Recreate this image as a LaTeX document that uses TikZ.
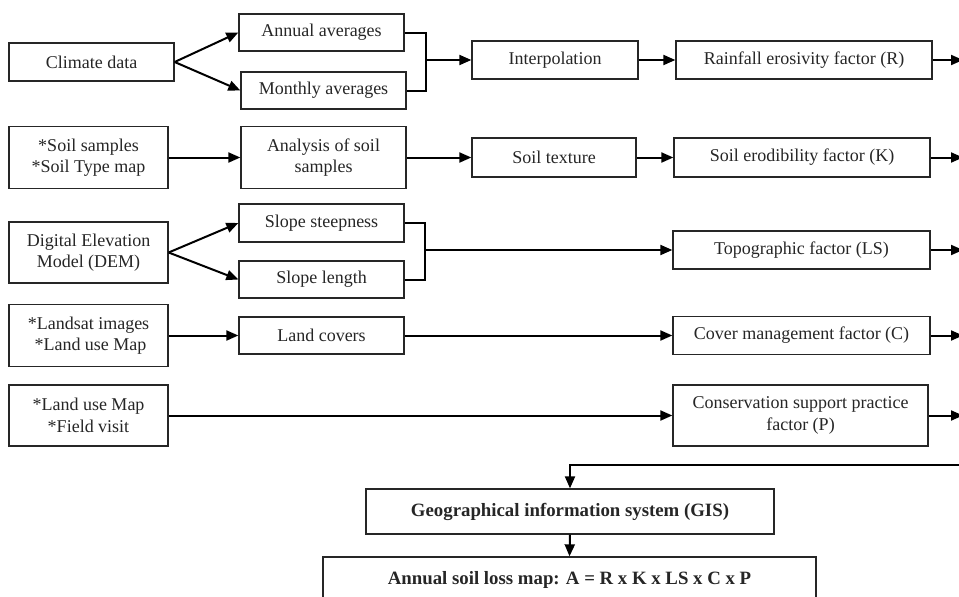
\documentclass[tikz,border=0pt]{standalone}
\usepackage{fontspec}
\setmainfont{Liberation Serif}
\usetikzlibrary{arrows.meta}
\tikzset{
  box/.style={draw=black!85, line width=1.3pt, inner sep=0pt, align=center,
    font=\fontsize{18}{21.5}\selectfont, text=black!85},
  boldbox/.style={box, font=\fontsize{18.8}{22}\selectfont\bfseries},
  conn/.style={line width=2pt, draw=black},
  arr/.style={conn, -{Triangle[length=12pt,width=10pt]}}
}
\begin{document}
\begin{tikzpicture}[x=1pt,y=-1pt]
\useasboundingbox (0,0) rectangle (959,597);
\clip (0,0) rectangle (959,597);
\fill[white] (0,0) rectangle (959,597);
% row 1
\node[box, minimum width=165pt, minimum height=38pt] (climate) at (91.5,62) {Climate data};
\node[box, minimum width=165pt, minimum height=37pt] (annual) at (321.5,32.5) {Annual averages};
\node[box, minimum width=165pt, minimum height=37pt] (monthly) at (323.5,90.5) {Monthly averages};
\node[box, minimum width=166pt, minimum height=38pt] (interp) at (555,60) {Interpolation};
\node[box, minimum width=256pt, minimum height=38pt] (rain) at (804,60) {Rainfall erosivity factor (R)};
% row 2
\node[box, minimum width=159pt, minimum height=62pt] (soil) at (88.5,157.5) {*Soil samples\\*Soil Type map};
\node[box, minimum width=165pt, minimum height=62pt] (analysis) at (323.5,157.5) {Analysis of soil\\samples};
\node[box, minimum width=164pt, minimum height=39pt] (texture) at (554,157.5) {Soil texture};
\node[box, minimum width=256pt, minimum height=39pt] (erod) at (802,157.5) {Soil erodibility factor (K)};
% row 3
\node[box, minimum width=159pt, minimum height=61pt] (dem) at (88.5,252.5) {Digital Elevation\\Model (DEM)};
\node[box, minimum width=165pt, minimum height=38pt] (steep) at (321.5,223) {Slope steepness};
\node[box, minimum width=165pt, minimum height=37pt] (length) at (321.5,279.5) {Slope length};
\node[box, minimum width=257pt, minimum height=38pt] (topo) at (801.5,250) {Topographic factor (LS)};
% row 4
\node[box, minimum width=159pt, minimum height=62pt] (landsat) at (88.5,335.5) {*Landsat images\\\hspace*{4pt}*Land use Map};
\node[box, minimum width=165pt, minimum height=37pt] (covers) at (321.5,335.5) {Land covers};
\node[box, minimum width=257pt, minimum height=38pt] (cover) at (801.5,335.5) {Cover management factor (C)};
% row 5
\node[box, minimum width=159pt, minimum height=61pt] (field) at (88.5,415.5) {*Land use Map\\*Field visit};
\node[box, minimum width=255pt, minimum height=61pt] (cons) at (800.5,415.5) {Conservation support practice\\factor (P)};
% bottom
\node[boldbox, minimum width=408pt, minimum height=45pt] (gis) at (570,511.5) {Geographical information system (GIS)};
\node[boldbox, minimum width=493pt, minimum height=45pt] (asl) at (569.5,579.5) {Annual soil loss map: A = R x K x LS x C x P};
% junctions and free ends
\coordinate (j1) at (426,60);
\coordinate (j2) at (425,250);
\coordinate (e1) at (963,60);
\coordinate (e2) at (963,157.5);
\coordinate (e3) at (963,250);
\coordinate (e4) at (963,335.5);
\coordinate (e5) at (963,415.5);
\coordinate (r) at (962,465);
% connectors row 1
\draw[arr] (climate.east) -- (annual.west);
\draw[arr] (climate.east) -- (monthly.west);
\draw[conn] (annual.east) -| (j1) |- (monthly.east);
\draw[arr] (j1) -- (interp.west);
\draw[arr] (interp.east) -- (rain.west);
\draw[arr] (rain.east) -- (e1);
% row 2
\draw[arr] (soil.east) -- (analysis.west);
\draw[arr] (analysis.east) -- (texture.west);
\draw[arr] (texture.east) -- (erod.west);
\draw[arr] (erod.east) -- (e2);
% row 3
\draw[arr] (dem.east) -- (steep.west);
\draw[arr] (dem.east) -- (length.west);
\draw[conn] (steep.east) -| (j2) |- (length.east);
\draw[arr] (j2) -- (topo.west);
\draw[arr] (topo.east) -- (e3);
% row 4
\draw[arr] (landsat.east) -- (covers.west);
\draw[arr] (covers.east) -- (cover.west);
\draw[arr] (cover.east) -- (e4);
% row 5
\draw[arr] (field.east) -- (cons.west);
\draw[arr] (cons.east) -- (e5);
% bottom
\draw[arr] (r) -| (gis.north);
\draw[arr] (gis.south) -- (asl.north);
\end{tikzpicture}
\end{document}
